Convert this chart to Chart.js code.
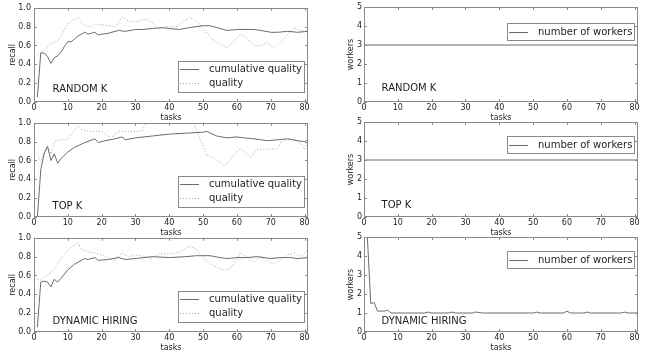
<!DOCTYPE html>
<html lang="en">
<head>
<meta charset="UTF-8">
<title>Recall and workers per hiring strategy</title>
<script src="https://cdn.jsdelivr.net/npm/chart.js@4.4.0/dist/chart.umd.min.js"></script>
<style>
  html, body { margin: 0; padding: 0; background: #fff; overflow: hidden; }
  body { width: 652px; height: 354px; position: relative; }
  canvas { position: absolute; }
</style>
</head>
<body>
<canvas id="recallRandom" width="326" height="124" style="left:0;top:0"></canvas>
<canvas id="recallTop" width="326" height="124" style="left:0;top:115px"></canvas>
<canvas id="recallDynamic" width="326" height="124" style="left:0;top:230px"></canvas>
<canvas id="workersRandom" width="322" height="124" style="left:330px;top:0"></canvas>
<canvas id="workersTop" width="322" height="124" style="left:330px;top:115px"></canvas>
<canvas id="workersDynamic" width="322" height="124" style="left:330px;top:230px"></canvas>
<script>
// ---- data ----
const panelNames = ['RANDOM K', 'TOP K', 'DYNAMIC HIRING'];
const seriesNames = ['cumulative quality', 'quality'];
const workersName = 'number of workers';

const rkCumTasks = [1,2,3,4,5,6,7,8,9,10,11,12,13,14,15,16,17,18,19,20,22,25,27,30,32,35,38,40,43,46,50,52,55,57,60,65,67,70,72,75,78,81];
const rkCum = [0.05,0.52,0.52,0.48,0.41,0.47,0.49,0.53,0.59,0.64,0.64,0.67,0.70,0.72,0.74,0.72,0.73,0.74,0.71,0.72,0.73,0.76,0.75,0.77,0.77,0.78,0.79,0.78,0.77,0.79,0.81,0.81,0.78,0.76,0.77,0.77,0.76,0.74,0.74,0.75,0.74,0.75];
const rkQualTasks = [1,2,3,5,7,8,10,13,14,15,17,18,22,24,26,28,30,33,35,37,39,42,44,46,48,50,52,53,55,57,59,61,63,65,67,69,71,73,75,77,79,81];
const rkQual = [0.50,0.52,0.55,0.62,0.65,0.70,0.83,0.90,0.85,0.81,0.80,0.83,0.81,0.80,0.90,0.86,0.85,0.88,0.84,0.77,0.80,0.80,0.85,0.90,0.86,0.78,0.70,0.65,0.62,0.57,0.65,0.72,0.68,0.60,0.60,0.63,0.57,0.63,0.72,0.79,0.75,0.76];

const tkCumTasks = [1,2,3,4,5,6,7,8,10,12,15,18,19,21,24,26,27,30,35,40,45,50,51,54,57,60,62,65,67,69,72,75,78,80,81];
const tkCum = [0.0,0.50,0.67,0.75,0.60,0.67,0.57,0.62,0.69,0.74,0.79,0.83,0.79,0.81,0.83,0.85,0.82,0.84,0.86,0.88,0.89,0.90,0.91,0.86,0.84,0.85,0.84,0.83,0.82,0.81,0.82,0.83,0.81,0.80,0.82];
const tkQualTasks = [1,2,3,4,5,6,7,8,10,11,13,14,16,20,22,23,25,30,32,33,35,45,47,48,50,51,53,55,56,57,59,61,63,64,66,70,72,73,75,77,79,80,81];
const tkQual = [0.67,0.58,0.70,0.75,0.67,0.80,0.81,0.82,0.82,0.88,0.97,0.93,0.91,0.91,0.85,0.85,0.91,0.91,0.91,1.0,1.08,1.08,1.0,0.93,0.75,0.65,0.63,0.58,0.54,0.56,0.65,0.73,0.67,0.63,0.72,0.72,0.72,0.80,0.82,0.82,0.78,0.72,0.80];

const dhCumTasks = [1,2,3,4,5,6,7,8,10,12,14,15,16,18,19,22,25,27,30,35,40,45,48,52,55,57,60,63,66,70,73,76,78,81];
const dhCum = [0.05,0.53,0.54,0.53,0.48,0.56,0.53,0.57,0.66,0.72,0.76,0.78,0.77,0.79,0.76,0.77,0.79,0.77,0.78,0.80,0.79,0.80,0.81,0.81,0.79,0.78,0.79,0.79,0.80,0.78,0.79,0.79,0.78,0.79];
const dhQualTasks = [1,2,3,5,7,8,10,11,13,14,16,18,20,22,24,26,28,30,33,35,37,40,43,46,48,50,52,54,56,58,60,61,63,65,67,69,71,73,75,77,79,81];
const dhQual = [0.56,0.55,0.58,0.63,0.72,0.78,0.87,0.90,0.95,0.88,0.85,0.84,0.82,0.79,0.76,0.84,0.80,0.82,0.80,0.78,0.83,0.83,0.85,0.91,0.88,0.79,0.72,0.69,0.66,0.67,0.77,0.84,0.80,0.74,0.80,0.75,0.72,0.77,0.82,0.84,0.80,0.87];

const fixedTasks = [0, 81];
const rkWorkers = [3, 3];
const tkWorkers = [3, 3];
const dhWorkerTasks = [1,2,3,4,5,6,7,8,10,18,19,20,25,26,27,32,33,34,35,50,51,52,59,60,61,65,66,67,76,77,78,81];
const dhWorkers = [5,1.5,1.55,1.1,1.1,1.1,1.15,1.0,1.0,1.0,1.05,1.0,1.0,1.05,1.0,1.0,1.05,1.03,1.0,1.0,1.05,1.0,1.0,1.1,1.0,1.0,1.05,1.0,1.0,1.05,1.0,1.0];

const xTicks = [0, 10, 20, 30, 40, 50, 60, 70, 80];

// ---- styling ----
const FONT = 'DejaVu Sans';
const TEXT = '#1e1e1e';
const FRAME = '#8a8a8a';
const SOLID = '#6c6c6c';
const DOTTED = '#a6a6a6';

function pts(xs, ys) { return xs.map((x, i) => ({x: x, y: ys[i]})); }

// box frame with inward ticks on all sides (matplotlib look)
const frameTicks = {
  id: 'frameTicks',
  afterDatasetsDraw(chart) {
    const {ctx, chartArea: a, scales: {x, y}} = chart;
    ctx.save();
    ctx.strokeStyle = FRAME;
    ctx.lineWidth = 1;
    ctx.beginPath();
    x.ticks.forEach(t => {
      const px = Math.round(x.getPixelForValue(t.value)) + 0.5;
      ctx.moveTo(px, a.bottom); ctx.lineTo(px, a.bottom - 3);
      ctx.moveTo(px, a.top); ctx.lineTo(px, a.top + 3);
    });
    y.ticks.forEach(t => {
      const py = Math.round(y.getPixelForValue(t.value)) + 0.5;
      ctx.moveTo(a.left, py); ctx.lineTo(a.left + 3, py);
      ctx.moveTo(a.right, py); ctx.lineTo(a.right - 3, py);
    });
    ctx.stroke();
    ctx.strokeRect(Math.round(a.left) + 0.5, Math.round(a.top) + 0.5,
                   Math.round(a.width) - 1, Math.round(a.height) - 1);
    ctx.restore();
  }
};

// legend drawn as a framed box inside the plot
const boxLegend = {
  id: 'boxLegend',
  afterDraw(chart, args, opts) {
    const {ctx, chartArea: a} = chart;
    const left = a.left + opts.left, right = a.right - 4;
    const top = a.top + opts.top, h = opts.height;
    ctx.save();
    ctx.fillStyle = '#fff';
    ctx.fillRect(left, top, right - left, h);
    ctx.strokeStyle = FRAME;
    ctx.lineWidth = 1;
    ctx.strokeRect(Math.round(left) + 0.5, Math.round(top) + 0.5, Math.round(right - left), Math.round(h));
    ctx.font = '10px "' + FONT + '"';
    ctx.textBaseline = 'middle';
    chart.data.datasets.forEach((ds, i) => {
      const cy = Math.round(top + opts.rows[i]) + 0.5;
      ctx.strokeStyle = ds.borderColor;
      ctx.setLineDash(ds.borderDash || []);
      ctx.beginPath();
      ctx.moveTo(left + 2, cy); ctx.lineTo(left + 21, cy);
      ctx.stroke();
      ctx.setLineDash([]);
      ctx.fillStyle = TEXT;
      ctx.fillText(ds.label, left + 31, cy);
    });
    ctx.restore();
  }
};

// strategy name placed at data coordinates
const panelLabel = {
  id: 'panelLabel',
  afterDraw(chart, args, opts) {
    const {ctx, scales: {x, y}} = chart;
    ctx.save();
    ctx.font = '10px "' + FONT + '"';
    ctx.fillStyle = TEXT;
    ctx.textBaseline = 'middle';
    ctx.fillText(opts.text, x.getPixelForValue(opts.x), y.getPixelForValue(opts.y));
    ctx.restore();
  }
};

function makeChart(id, datasets, cfg) {
  new Chart(document.getElementById(id), {
    type: 'line',
    data: {datasets: datasets},
    options: {
      responsive: false,
      animation: false,
      layout: {padding: {top: 7, bottom: 1, left: 0, right: cfg.padRight}},
      elements: {point: {radius: 0}, line: {tension: 0, borderWidth: 1}},
      plugins: {
        legend: {display: false},
        tooltip: {enabled: false},
        boxLegend: cfg.legend,
        panelLabel: cfg.label
      },
      scales: {
        x: {
          type: 'linear', min: 0, max: 81,
          grid: {display: false, drawTicks: false}, border: {display: false},
          afterBuildTicks: s => { s.ticks = xTicks.map(v => ({value: v})); },
          afterFit: s => { s.height = 21; },
          ticks: {color: TEXT, font: {family: FONT, size: 8}, padding: 1, maxRotation: 0, autoSkip: false},
          title: {display: true, text: 'tasks', color: TEXT, font: {family: FONT, size: 8}, padding: {top: 0, bottom: 0.6}}
        },
        y: {
          min: 0, max: cfg.yMax,
          grid: {display: false, drawTicks: false}, border: {display: false},
          afterBuildTicks: s => { s.ticks = cfg.yTicks.map(v => ({value: v})); },
          afterFit: s => { s.width = 34; },
          ticks: {color: TEXT, font: {family: FONT, size: 8}, padding: cfg.tickPad, callback: cfg.fmt},
          title: {display: true, text: cfg.yTitle, color: TEXT, font: {family: FONT, size: 8}, padding: {top: cfg.titlePad, bottom: 0}}
        }
      }
    },
    plugins: [frameTicks, boxLegend, panelLabel]
  });
}

function recallSets(cumX, cumY, qX, qY) {
  return [
    {label: seriesNames[0], data: pts(cumX, cumY), borderColor: SOLID, borderWidth: 1},
    {label: seriesNames[1], data: pts(qX, qY), borderColor: DOTTED, borderWidth: 1, borderDash: [1, 2]}
  ];
}
function workerSets(xs, ys) {
  return [{label: workersName, data: pts(xs, ys), borderColor: SOLID, borderWidth: 1}];
}

const recallCfg = (name, ly) => ({
  padRight: 18, yMax: 1, yTicks: [0, 0.2, 0.4, 0.6, 0.8, 1.0], fmt: v => v.toFixed(1),
  yTitle: 'recall', titlePad: 8.5, tickPad: 3,
  legend: {left: 144, top: 53, height: 31, rows: [8.3, 21.7]},
  label: {text: name, x: 5.5, y: ly}
});
const workersCfg = (name, lt, ly) => ({
  padRight: 14, yMax: 5, yTicks: [0, 1, 2, 3, 4, 5], fmt: v => String(v),
  yTitle: 'workers', titlePad: 16, tickPad: 2,
  legend: {left: 143, top: lt, height: 17, rows: [8.5]},
  label: {text: name, x: 5.2, y: ly}
});

makeChart('recallRandom', recallSets(rkCumTasks, rkCum, rkQualTasks, rkQual), recallCfg(panelNames[0], 0.13));
makeChart('recallTop', recallSets(tkCumTasks, tkCum, tkQualTasks, tkQual), recallCfg(panelNames[1], 0.11));
makeChart('recallDynamic', recallSets(dhCumTasks, dhCum, dhQualTasks, dhQual), recallCfg(panelNames[2], 0.11));
makeChart('workersRandom', workerSets(fixedTasks, rkWorkers), workersCfg(panelNames[0], 16, 0.7));
makeChart('workersTop', workerSets(fixedTasks, tkWorkers), workersCfg(panelNames[1], 14, 0.61));
makeChart('workersDynamic', workerSets(dhWorkerTasks, dhWorkers), workersCfg(panelNames[2], 14, 0.54));
</script>
</body>
</html>
